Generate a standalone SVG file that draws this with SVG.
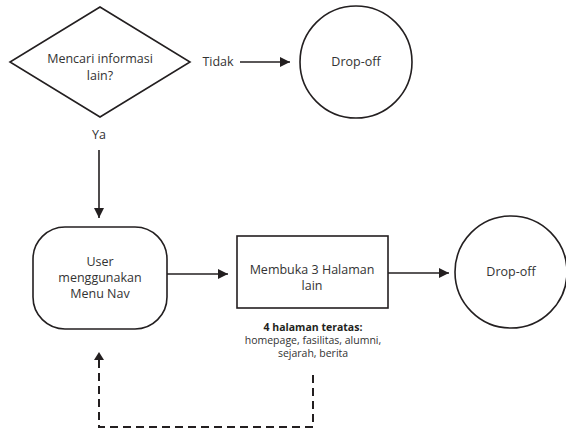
<svg xmlns="http://www.w3.org/2000/svg" width="566" height="430" viewBox="0 0 566 430">
<defs>
<style>
.s{fill:#fff;stroke:#231f20;stroke-width:1.6}
.t{font-family:"Open Sans","Noto Sans",sans-serif;font-size:12.5px;fill:#333;text-anchor:middle}
.b{font-weight:bold;font-size:10.5px;fill:#231f20}
.n{font-size:10.5px}
.c{fill:none;stroke:#231f20;stroke-width:1.6}
.d{fill:none;stroke:#231f20;stroke-width:2;stroke-dasharray:8 5}
</style>
<marker id="a" viewBox="0 0 10 10" refX="10" refY="5" markerWidth="10" markerHeight="10" markerUnits="userSpaceOnUse" orient="auto">
<path d="M0,0 L10,5 L0,10 z" fill="#231f20"/>
</marker>
</defs>
<rect width="566" height="430" fill="#fff"/>
<g id="decision">
<path class="s" d="M100,7 L190,62 L100,117 L10,62 Z"/>
<text class="t" x="100" y="63">Mencari informasi</text>
<text class="t" x="100" y="80">lain?</text>
</g>
<g id="dropoff1">
<circle class="s" cx="356" cy="62" r="56"/>
<text class="t" x="356" y="66">Drop-off</text>
</g>
<g id="user">
<rect class="s" x="33" y="227" width="134" height="102" rx="32" ry="32"/>
<text class="t" x="100" y="266">User</text>
<text class="t" x="100" y="282">menggunakan</text>
<text class="t" x="100" y="298">Menu Nav</text>
</g>
<g id="membuka">
<rect class="s" x="237" y="236" width="151" height="72"/>
<text class="t" x="312" y="274">Membuka 3 Halaman</text>
<text class="t" x="312" y="290">lain</text>
</g>
<g id="dropoff2">
<circle class="s" cx="511" cy="272" r="56"/>
<text class="t" x="511" y="276">Drop-off</text>
</g>
<g id="note">
<text class="t b" x="313" y="331">4 halaman teratas:</text>
<text class="t n" x="313" y="344">homepage, fasilitas, alumni,</text>
<text class="t n" x="313" y="357">sejarah, berita</text>
</g>
<g id="connectors">
<text class="t" x="218" y="66">Tidak</text>
<path class="c" d="M240,62 L290,62" marker-end="url(#a)"/>
<text class="t" x="99" y="139">Ya</text>
<path class="c" d="M99,150 L99,218" marker-end="url(#a)"/>
<path class="c" d="M167,274 L228,274" marker-end="url(#a)"/>
<path class="c" d="M388,273 L449,273" marker-end="url(#a)"/>
<path class="d" d="M313,375 L313,427 L99,427 L99,360"/>
<path d="M94,360 L99,352 L104,360 Z" fill="#231f20"/>
</g>
</svg>
